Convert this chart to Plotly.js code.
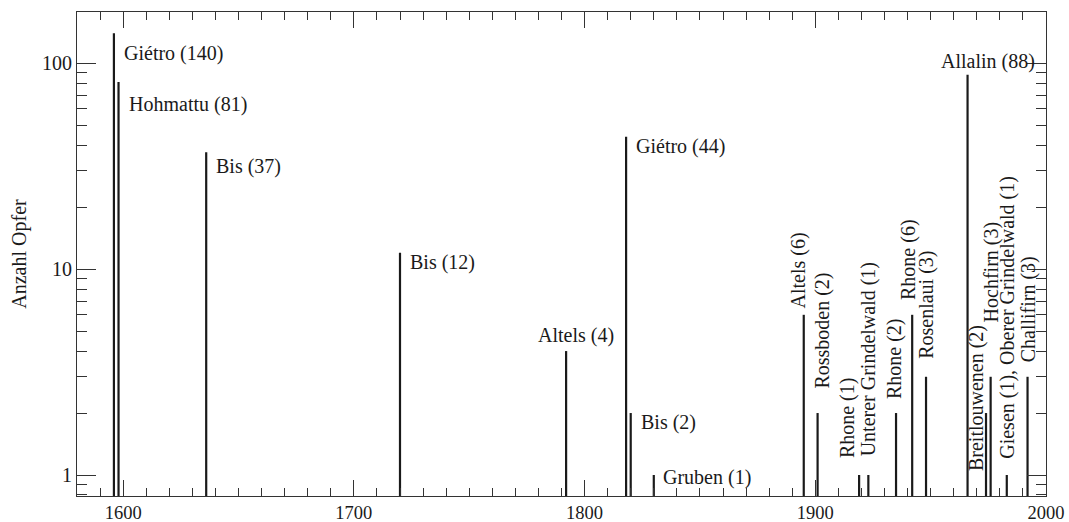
<!DOCTYPE html>
<html><head><meta charset="utf-8">
<script src="https://cdn.plot.ly/plotly-3.0.1.min.js"></script>
<style>html,body{margin:0;padding:0;background:#fff}#chart{width:1069px;height:522px}</style>
</head><body><div id="chart"></div>
<script>
// Data
const years   = [1596, 1598, 1636, 1720, 1792, 1818, 1820, 1830, 1895, 1901, 1919, 1923, 1935, 1942, 1948, 1966, 1974, 1976, 1983, 1992];
const victims = [140, 81, 37, 12, 4, 44, 2, 1, 6, 2, 1, 1, 2, 6, 3, 88, 2, 3, 1, 3];
const names   = ["Giétro", "Hohmattu", "Bis", "Bis", "Altels", "Giétro", "Bis", "Gruben", "Altels", "Rossboden",
                 "Rhone", "Unterer Grindelwald", "Rhone", "Rhone", "Rosenlaui", "Allalin", "Breitlouwenen", "Hochfirn",
                 "Giesen (1), Oberer Grindelwald", "Challifirn"];
const xTickVals = [1600, 1700, 1800, 1900, 2000];
const yTickVals = [1, 10, 100];

// Label placement (styling): [angle, xanchor, yanchor, xshift, yshift]
const labelPlace = [
  [0, 'left', 'middle', 8, -20],
  [0, 'left', 'middle', 8, -22],
  [0, 'left', 'middle', 8, -14],
  [0, 'left', 'middle', 8, -10],
  [0, 'center', 'middle', 10, 16],
  [0, 'left', 'middle', 8, -10],
  [0, 'left', 'middle', 8, -9],
  [0, 'left', 'middle', 7, -2],
  [-90, 'center', 'middle', -5, 44],
  [-90, 'center', 'middle', 4, 82],
  [-90, 'center', 'middle', -12, 57],
  [-90, 'center', 'middle', 0, 116],
  [-90, 'center', 'middle', -2, 54],
  [-90, 'center', 'middle', -3, 55],
  [-90, 'center', 'middle', 1, 72],
  [0, 'center', 'middle', 20, 13],
  [-90, 'center', 'middle', -10, 15],
  [-90, 'center', 'middle', 1, 105],
  [-90, 'center', 'middle', 0, 158],
  [-90, 'center', 'middle', 1, 67]
];

const SERIF = 'Liberation Serif';
const FS = 20;

// Build vertical stems from the data
const sx = [], sy = [];
years.forEach((yr, i) => { sx.push(yr, yr, null); sy.push(0.5, victims[i], null); });

const trace = {
  x: sx, y: sy, type: 'scatter', mode: 'lines',
  line: {color: '#1a1a1a', width: 2.2}, hoverinfo: 'skip', showlegend: false
};

const annotations = years.map((yr, i) => {
  const p = labelPlace[i];
  return {
    x: yr, y: Math.log10(victims[i]), xref: 'x', yref: 'y',
    text: names[i] + ' (' + victims[i] + ')',
    showarrow: false, textangle: p[0], xanchor: p[1], yanchor: p[2],
    xshift: p[3], yshift: p[4],
    font: {family: SERIF, size: FS, color: '#1a1a1a'}
  };
});

const layout = {
  width: 1069, height: 522,
  margin: {l: 77, r: 23, t: 12, b: 26},
  paper_bgcolor: '#fff', plot_bgcolor: '#fff',
  showlegend: false,
  xaxis: {
    range: [1580, 2000], tickvals: xTickVals, ticktext: xTickVals.map(String),
    ticks: 'inside', ticklen: 16, tickwidth: 1, tickcolor: '#333',
    showline: true, linecolor: '#333', linewidth: 1, mirror: 'ticks',
    showgrid: false, zeroline: false,
    minor: {dtick: 10, ticks: 'inside', ticklen: 8, tickwidth: 1, tickcolor: '#333', showgrid: false},
    tickfont: {family: SERIF, size: 18.5, color: '#1a1a1a'}
  },
  yaxis: {
    type: 'log', range: [-0.102, 2.249], tickvals: yTickVals, ticktext: yTickVals.map(String),
    ticks: 'inside', ticklen: 19, tickwidth: 1, tickcolor: '#333',
    showline: true, linecolor: '#333', linewidth: 1, mirror: 'ticks',
    showgrid: false, zeroline: false,
    minor: {dtick: 'D1', ticks: 'inside', ticklen: 10, tickwidth: 1, tickcolor: '#333', showgrid: false},
    tickfont: {family: SERIF, size: FS, color: '#1a1a1a'},
    title: {text: 'Anzahl Opfer', font: {family: SERIF, size: FS, color: '#1a1a1a'}, standoff: 10}
  },
  annotations: annotations
};

Plotly.newPlot('chart', [trace], layout, {displayModeBar: false, staticPlot: true});
</script></body></html>
